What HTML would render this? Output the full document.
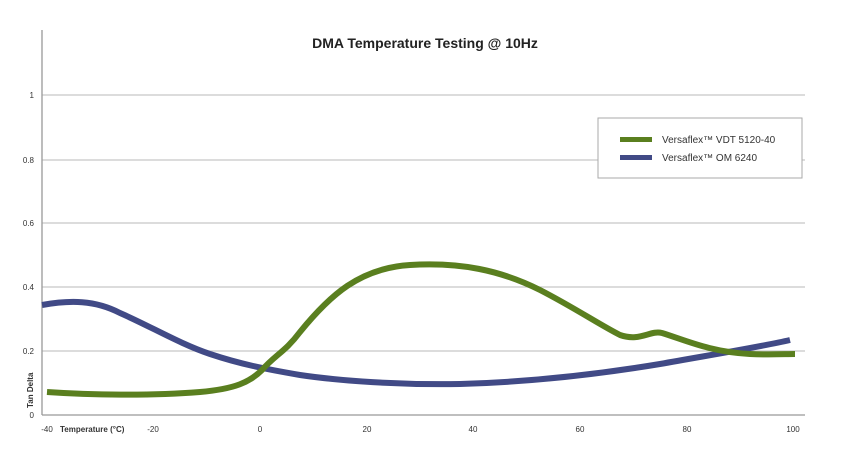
<!DOCTYPE html><html><head><style>body{margin:0;background:#fff}svg text{font-family:"Liberation Sans",sans-serif}</style></head><body>
<svg width="849" height="454" xmlns="http://www.w3.org/2000/svg">
<rect width="849" height="454" fill="#fff"/>
<g stroke="#c8c8c8" stroke-width="1.3">
<line x1="42" y1="95" x2="805" y2="95"/><line x1="42" y1="160" x2="805" y2="160"/>
<line x1="42" y1="223" x2="805" y2="223"/><line x1="42" y1="287" x2="805" y2="287"/>
<line x1="42" y1="351" x2="805" y2="351"/>
</g>
<line x1="42" y1="30" x2="42" y2="415" stroke="#999" stroke-width="1.3"/>
<line x1="42" y1="415" x2="805" y2="415" stroke="#999" stroke-width="1.3"/>
<g font-size="8" fill="#333" text-anchor="end">
<text x="34" y="98">1</text><text x="34" y="163">0.8</text><text x="34" y="226">0.6</text>
<text x="34" y="290">0.4</text><text x="34" y="354">0.2</text><text x="34" y="418">0</text>
</g>
<g font-size="8" fill="#333" text-anchor="middle">
<text x="47" y="432">-40</text><text x="153" y="432">-20</text><text x="260" y="432">0</text>
<text x="367" y="432">20</text><text x="473" y="432">40</text><text x="580" y="432">60</text>
<text x="687" y="432">80</text><text x="793" y="432">100</text>
</g>
<text x="60" y="432" font-size="8" font-weight="bold" fill="#333">Temperature (°C)</text>
<text transform="translate(33,408) rotate(-90)" font-size="8" font-weight="bold" fill="#333">Tan Delta</text>
<text x="425" y="48" font-size="14" font-weight="bold" text-anchor="middle" fill="#222">DMA Temperature Testing @ 10Hz</text>
<path d="M42,305 C70,300 95,300 120,313 C150,326 180,344 210,354 C240,364 265,369 300,375 C340,381 400,385 460,384 C530,382 600,374 660,364 C710,355 760,347 790,340" fill="none" stroke="#414a86" stroke-width="6"/>
<path d="M47,392 C90,395 150,396 200,392 C235,389 250,382 262,370 C275,355 285,352 300,332 C330,295 360,268 410,265 C460,262 500,270 540,290 C575,308 600,325 620,335 C640,342 650,330 662,333 C685,340 710,352 750,354 C770,355 785,354 795,354" fill="none" stroke="#5a7f1f" stroke-width="6"/>
<rect x="598" y="118" width="204" height="60" fill="#fff" stroke="#aaa" stroke-width="1"/>
<rect x="620" y="137" width="32" height="5" fill="#5a7f1f"/>
<rect x="620" y="155" width="32" height="5" fill="#414a86"/>
<text x="662" y="143" font-size="10" fill="#333">Versaflex™ VDT 5120-40</text>
<text x="662" y="161" font-size="10" fill="#333">Versaflex™ OM 6240</text>
</svg>
</body></html>
